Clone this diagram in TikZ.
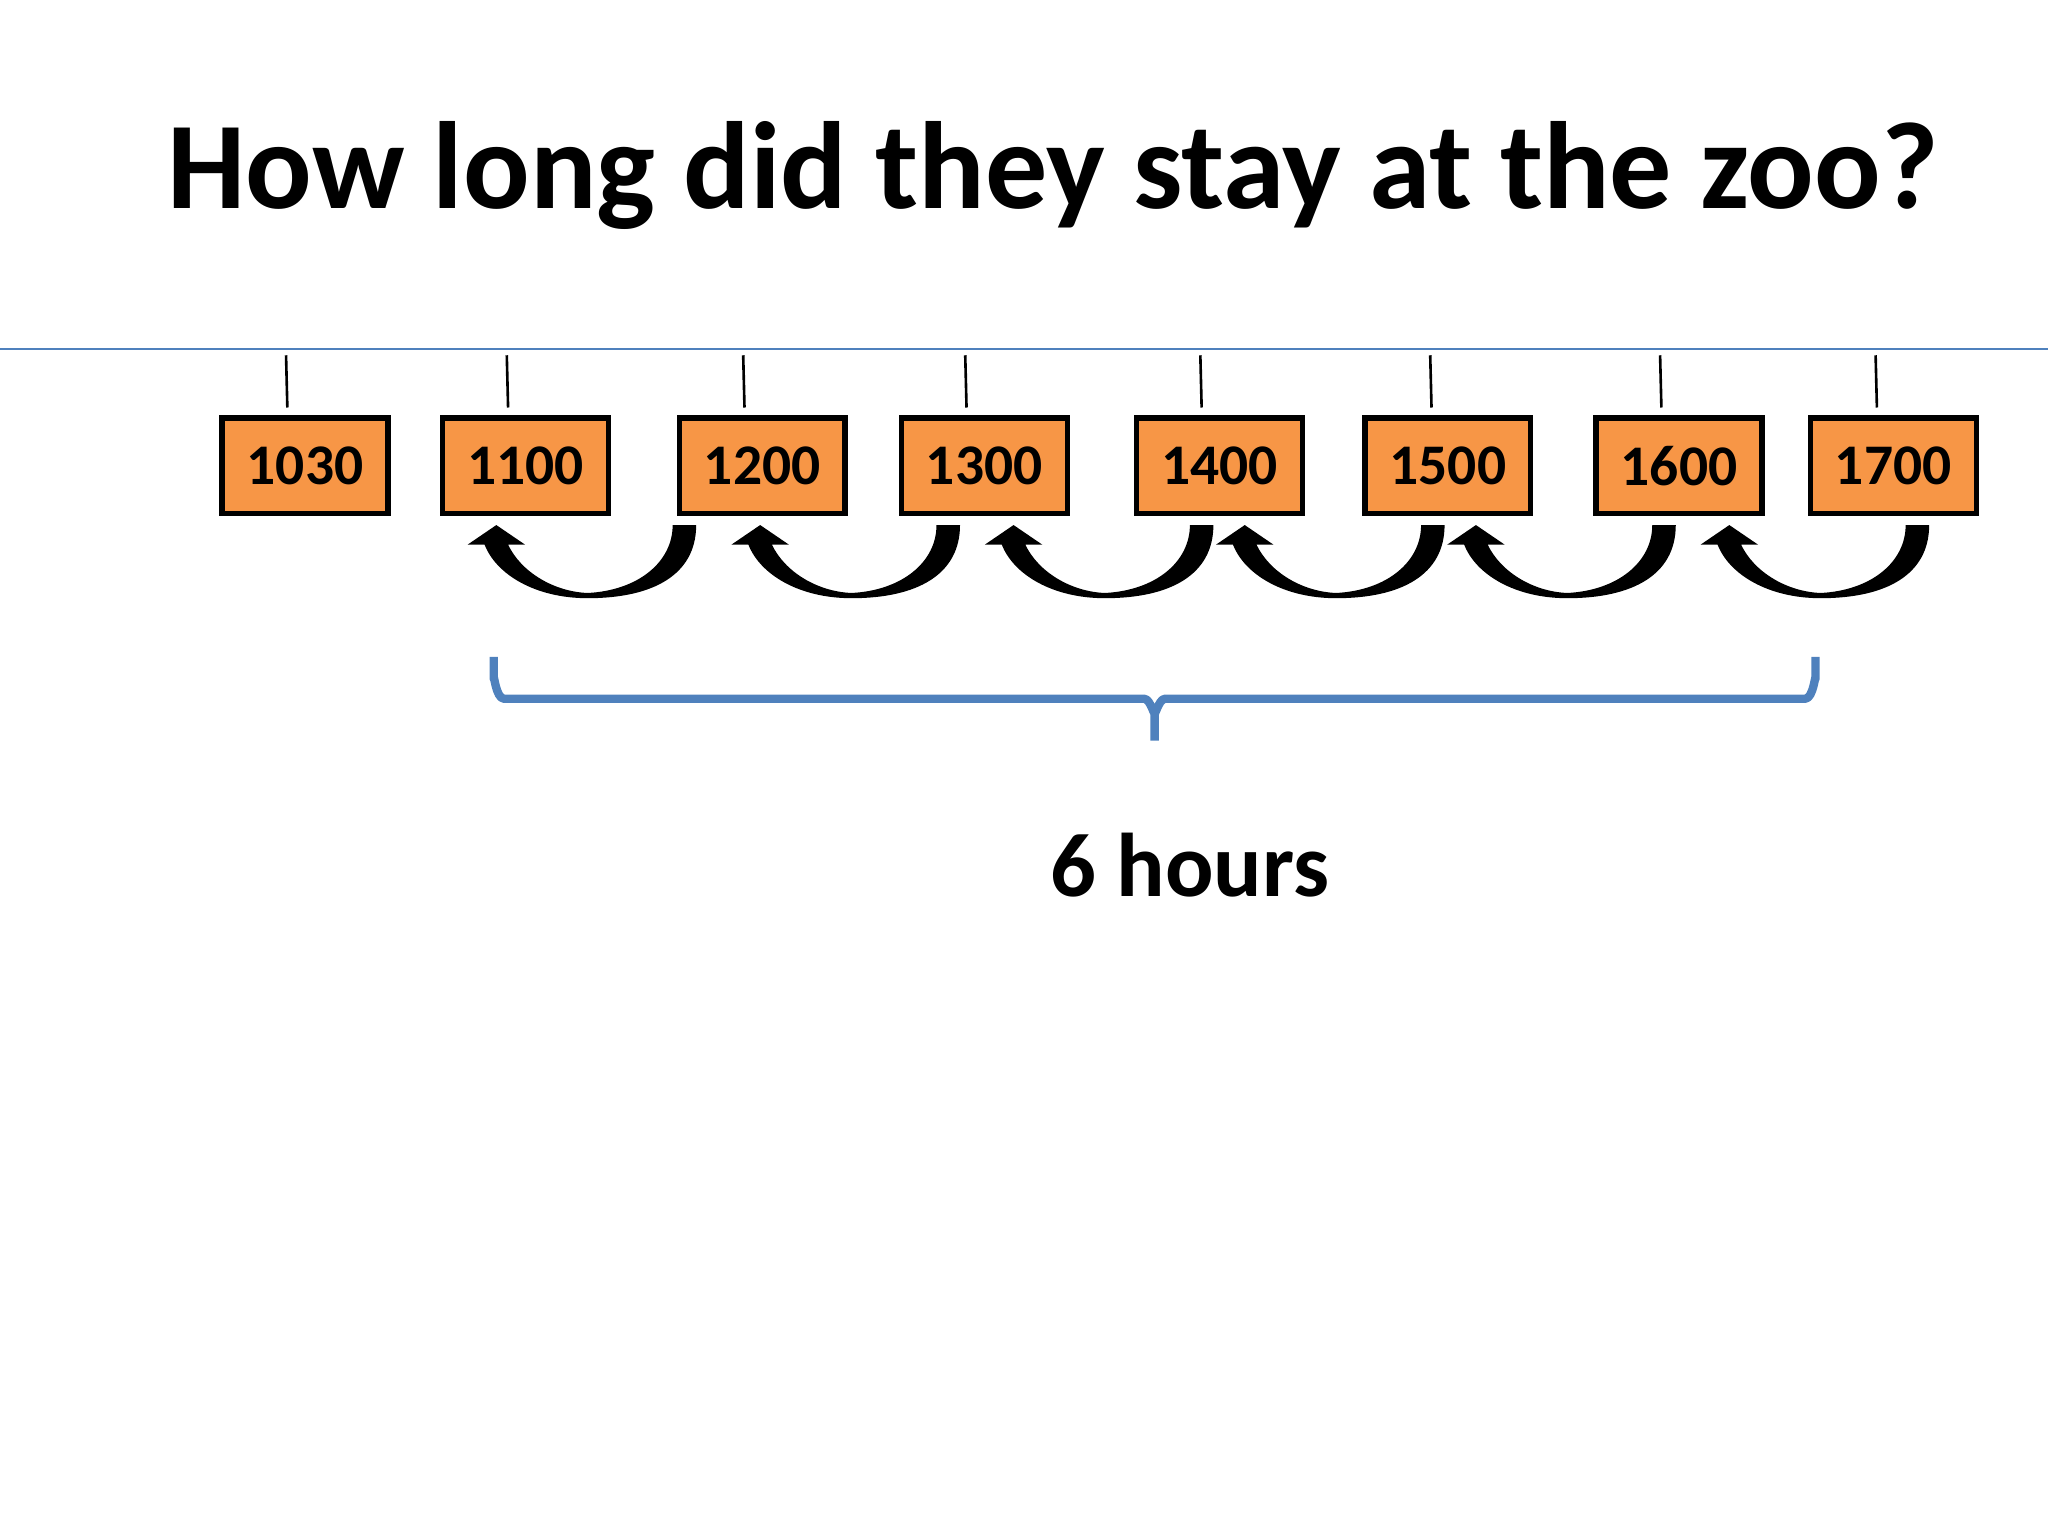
\documentclass[tikz,border=0pt]{standalone}
\usepackage{fontspec}
\setmainfont{Carlito}
\definecolor{boxor}{HTML}{F79646}
\definecolor{lblue}{HTML}{4F81BD}
\begin{document}
\begin{tikzpicture}[x=0.5pt,y=-0.5pt,
  tbox/.style={draw=black,line width=2pt,fill=boxor,minimum width=63.5pt,minimum height=36.5pt,inner sep=0pt,font=\bfseries\fontsize{22}{22}\selectfont},
  tick/.style={line width=1pt},
  hop/.pic={\fill (9,0) .. controls (9,38) and (-24,56) .. (-74,56) .. controls (-114,56) and (-144,38) .. (-153,15) -- (-166,15) -- (-144,0) -- (-122,15) -- (-135,15) .. controls (-125,36) and (-100,51) .. (-74,52) .. controls (-35,50) and (-9,28) .. (-9,0) -- cycle;}]
\useasboundingbox (0,0) rectangle (1568,1176);
\node[font=\bfseries\fontsize{47.5}{47.5}\selectfont,anchor=base] (title) at (806,160) {How long did they stay at the zoo?};
\draw[lblue,line width=0.8pt] (0,267) -- (1568,267);
\foreach \n/\x/\t in {a/233.5/1030,b/402.5/1100,c/583.5/1200,d/753.5/1300,e/933.5/1400,f/1108.5/1500,g/1285.5/1600,h/1449.5/1700}{
  \node[tbox] (\n) at (\x,356.5) {\t};
}
\foreach \n/\x in {a/219,b/388,c/569,d/739,e/919,f/1095,g/1271,h/1436}{
  \coordinate (t\n) at (\x,272);
  \draw[tick] (t\n) -- (\x+1,312);
}
\foreach \x in {524,726,920,1097,1274,1468}{
  \pic at (\x,402) {hop};
}
\draw[lblue,line width=3.2pt,line join=round] (378,503) -- (378,520) to[out=90,in=180] (386,535) -- (876,535) to[out=0,in=-90] (884,545) -- (884,567)
  (884,545) to[out=-90,in=180] (892,535) -- (1382,535) to[out=0,in=90] (1390,520) -- (1390,503);
\node[font=\bfseries\fontsize{34.6}{34.6}\selectfont,anchor=base] (hrs) at (911,686) {6 hours};
\end{tikzpicture}
\end{document}
